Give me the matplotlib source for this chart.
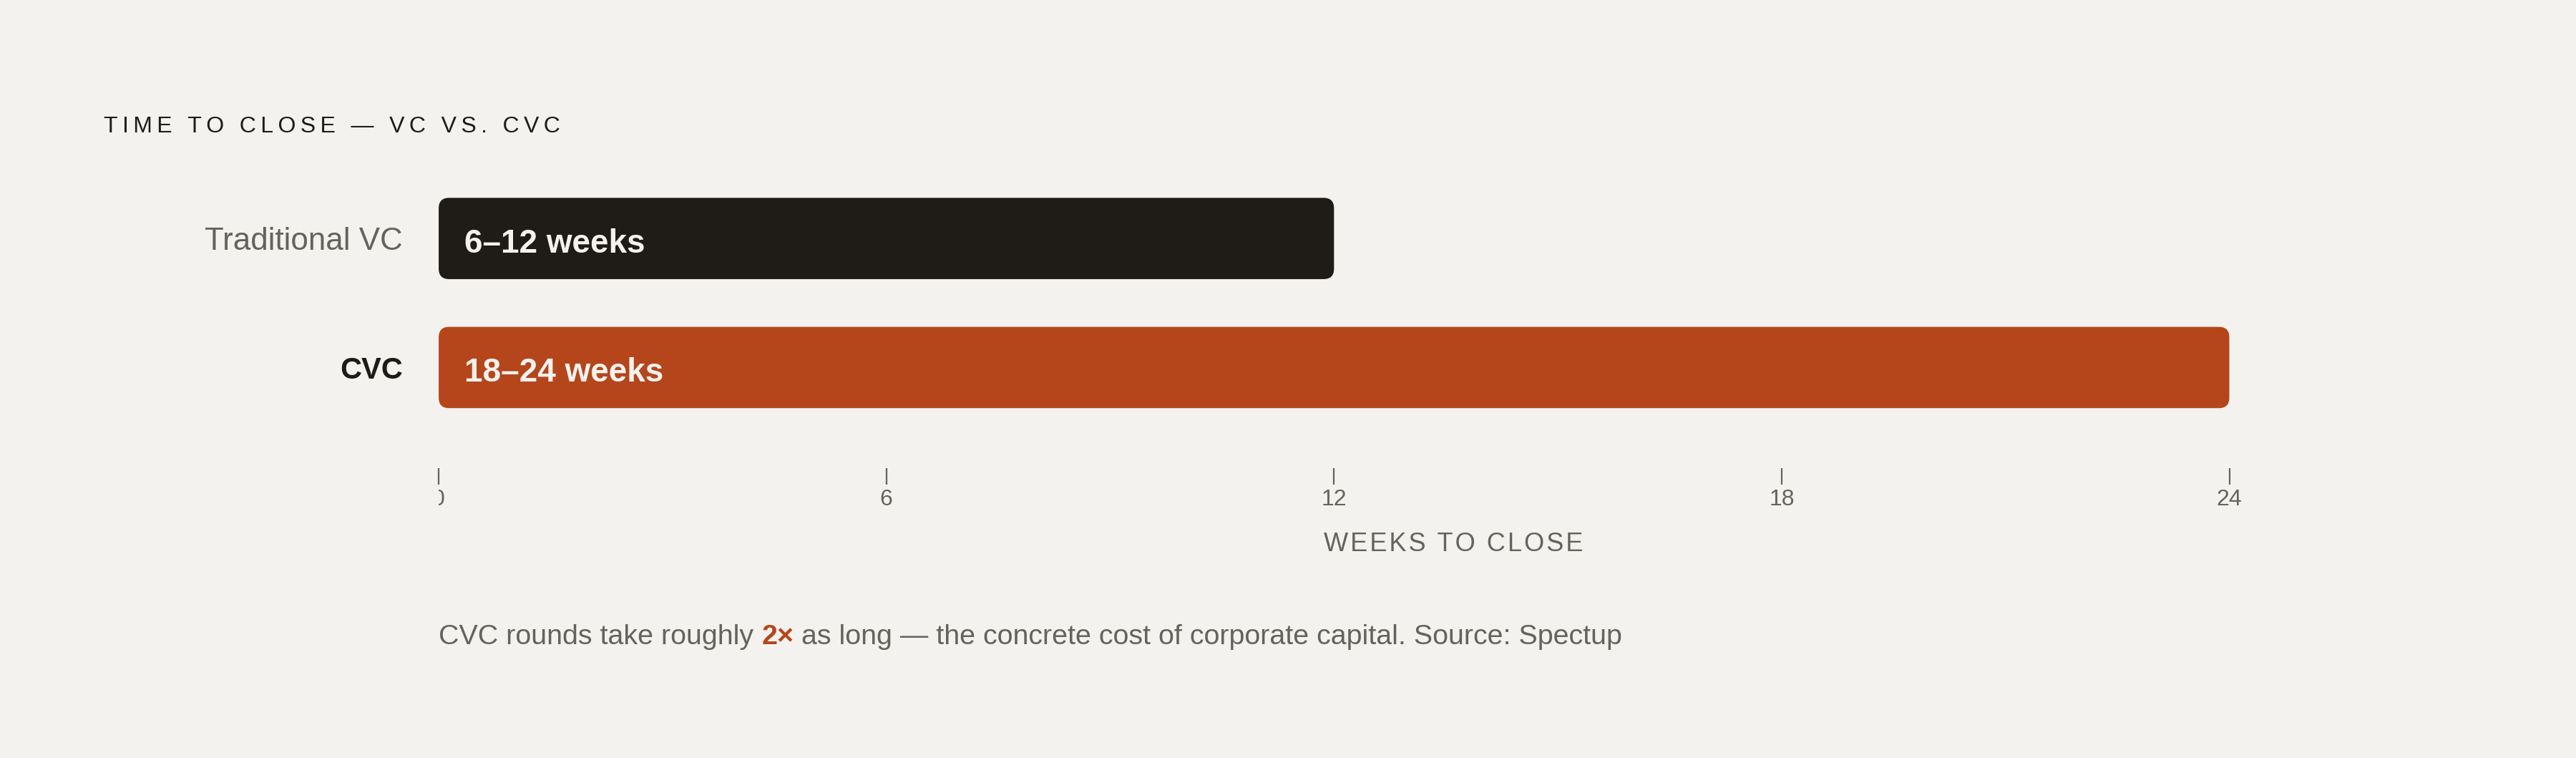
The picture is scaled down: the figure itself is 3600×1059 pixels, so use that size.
import matplotlib.pyplot as plt
from matplotlib.patches import FancyBboxPatch
from matplotlib.transforms import Bbox, TransformedBbox

# Data
categories = ['Traditional VC', 'CVC']
weeks_low = [6, 18]
weeks_high = [12, 24]
bar_colors = ['#1f1c18', '#b5461c']
x_ticks = [0, 6, 12, 18, 24]

BG = '#f3f2ee'
INK = '#1f1c18'
GRAY = '#66635e'
ACCENT = '#b5461c'

plt.rcParams['font.family'] = ['Liberation Sans', 'DejaVu Sans']


def spaced(s, gap='\u2009'):
    # fake letter spacing by putting a thin space between characters
    return gap.join(s)


fig = plt.figure(figsize=(18, 5.295), dpi=200, facecolor=BG)
ax = fig.add_axes([0.1703, 0.3824, 0.7878, 0.3881])
ax.set_facecolor(BG)

ypos = list(range(len(categories)))
bars = ax.barh(ypos, weeks_high, height=0.63, color=bar_colors)
ax.set_xlim(0, 27.2)
ax.set_ylim(1.78, -0.5)

# swap plain rectangles for rounded ones
for bar in bars:
    rounded = FancyBboxPatch((bar.get_x(), bar.get_y()), bar.get_width(), bar.get_height(),
                             boxstyle='round,pad=0,rounding_size=0.14', mutation_aspect=0.58,
                             facecolor=bar.get_facecolor(), edgecolor='none')
    bar.set_visible(False)
    ax.add_patch(rounded)

# labels inside bars
for i, (lo, hi) in enumerate(zip(weeks_low, weeks_high)):
    ax.annotate(f'{lo}\u2013{hi} weeks', xy=(0, i), xytext=(13, -1), textcoords='offset points',
                ha='left', va='center_baseline', color=BG, fontsize=16.5, fontweight='bold')

for s in ax.spines.values():
    s.set_visible(False)

# y axis
ax.set_yticks(ypos, categories)
ax.tick_params(axis='y', length=0, pad=18, labelsize=15)
ylbls = ax.get_yticklabels()
ylbls[0].set_color(GRAY)
ylbls[0].set_fontsize(15.8)
ylbls[1].set_color(INK)
ylbls[1].set_fontweight('bold')

# x axis
ax.set_xticks(x_ticks)
ax.tick_params(axis='x', length=8.3, width=0.8, color=GRAY, labelcolor=GRAY,
               labelsize=11.5, pad=2, direction='out')
clip = TransformedBbox(Bbox([[0.1703, 0], [1, 1]]), fig.transFigure)
for lbl in ax.get_xticklabels():
    lbl.set_clip_box(clip)
    lbl.set_clip_on(True)
ax.set_xlabel(spaced('WEEKS TO CLOSE', '\u200a'), fontsize=13, color=GRAY, labelpad=11)

# title
fig.text(145 / 3600, 1 - 185 / 1059, spaced('TIME TO CLOSE \u2014 VC VS. CVC'),
         fontsize=11.5, color=INK, va='baseline')

# footnote with highlighted part
t1 = ax.annotate('CVC rounds take roughly', xy=(0.1703, 0.1430), xycoords='figure fraction',
                 ha='left', va='bottom', fontsize=14.2, color=GRAY)
t2 = ax.annotate('2\u00d7', xy=(1, 0), xycoords=t1, xytext=(3.95, 0), textcoords='offset points',
                 ha='left', va='bottom', fontsize=14.2, color=ACCENT, fontweight='bold')
ax.annotate('as long \u2014 the concrete cost of corporate capital. Source: Spectup',
            xy=(1, 0), xycoords=t2, xytext=(3.95, 0), textcoords='offset points',
            ha='left', va='bottom', fontsize=14.2, color=GRAY)

fig.savefig('out.png', dpi=200, facecolor=BG)
